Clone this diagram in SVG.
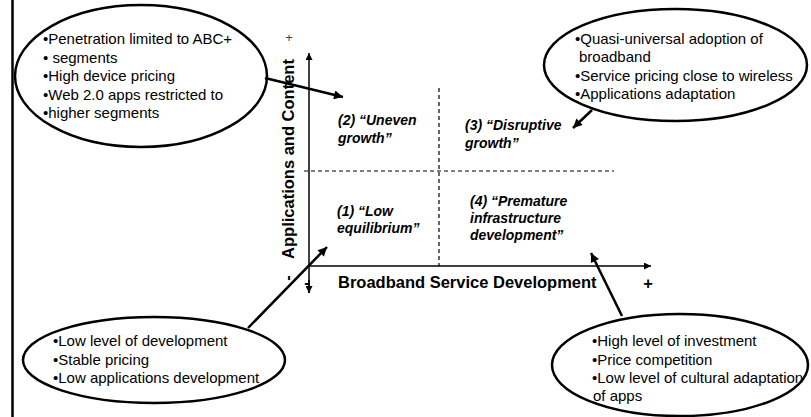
<svg xmlns="http://www.w3.org/2000/svg" width="811" height="417" viewBox="0 0 811 417">
  <style>
    .bubble { fill: #ffffff; stroke: #000000; stroke-width: 2.5; }
    .note { font-family: "Liberation Sans", Arial, sans-serif; font-size: 15px; fill: #000000; }
    .quad { font-family: "Liberation Sans", Arial, sans-serif; font-size: 14px; font-weight: bold; font-style: italic; fill: #000000; }
    .axislabel { font-family: "Liberation Sans", Arial, sans-serif; font-size: 16.5px; font-weight: bold; fill: #000000; }
    .axis { stroke: #000000; stroke-width: 1.5; fill: none; }
    .grid { stroke: #000000; stroke-width: 1.2; stroke-dasharray: 4 3; fill: none; }
    .link { stroke: #000000; stroke-width: 2.5; fill: none; }
  </style>
  <defs>
    <marker id="axisHead" viewBox="0 0 10 10" refX="10" refY="5" markerWidth="8" markerHeight="7" markerUnits="userSpaceOnUse" orient="auto">
      <path d="M0,0 L10,5 L0,10 Z" fill="#000000"/>
    </marker>
    <marker id="linkHead" viewBox="0 0 10 10" refX="10" refY="5" markerWidth="11" markerHeight="9" markerUnits="userSpaceOnUse" orient="auto">
      <path d="M0,0 L10,5 L0,10 Z" fill="#000000"/>
    </marker>
  </defs>

  <rect x="0" y="0" width="811" height="417" fill="#ffffff"/>

  <!-- frame edge on the left -->
  <line x1="12.5" y1="0" x2="12.5" y2="417" stroke="#000000" stroke-width="2.5"/>

  <!-- matrix: axes, quadrant dividers and axis labels -->
  <g id="matrix">
    <line class="grid" x1="439" y1="88" x2="439" y2="266"/>
    <line class="grid" x1="304" y1="171" x2="614" y2="171"/>
    <line class="axis" x1="309" y1="293" x2="309" y2="53" marker-end="url(#axisHead)"/>
    <line class="axis" x1="309" y1="280" x2="309" y2="293" marker-end="url(#axisHead)"/>
    <line class="axis" x1="309" y1="266" x2="651" y2="266" marker-end="url(#axisHead)"/>
    <text class="axislabel" text-anchor="middle" transform="translate(294,159) rotate(-90)">Applications and Content</text>
    <text class="axislabel" text-anchor="middle" transform="translate(293,278) rotate(-90)">-</text>
    <text font-family="'Liberation Sans', Arial, sans-serif" font-size="13" fill="#444444" text-anchor="middle" x="289" y="42">+</text>
    <text class="axislabel" x="338" y="288">Broadband Service Development</text>
    <text class="axislabel" text-anchor="middle" x="307" y="288">-</text>
    <text class="axislabel" text-anchor="middle" x="648" y="289">+</text>
  </g>

  <!-- quadrant captions -->
  <g id="q2">
    <text class="quad" x="338" y="125">(2) “Uneven</text>
    <text class="quad" x="338" y="143">growth”</text>
  </g>
  <g id="q3">
    <text class="quad" x="465" y="130">(3) “Disruptive</text>
    <text class="quad" x="465" y="148">growth”</text>
  </g>
  <g id="q1">
    <text class="quad" x="337" y="216">(1) “Low</text>
    <text class="quad" x="337" y="233">equilibrium”</text>
  </g>
  <g id="q4">
    <text class="quad" x="470" y="206">(4) “Premature</text>
    <text class="quad" x="470" y="223">infrastructure</text>
    <text class="quad" x="470" y="240">development”</text>
  </g>

  <!-- callout bubbles -->
  <g id="note-uneven">
    <ellipse class="bubble" cx="141" cy="76" rx="126" ry="71"/>
    <text class="note" x="43" y="44">•Penetration limited to ABC+</text>
    <text class="note" x="43" y="63">• segments</text>
    <text class="note" x="43" y="81">•High device pricing</text>
    <text class="note" x="43" y="100">•Web 2.0 apps restricted to</text>
    <text class="note" x="43" y="118">•higher segments</text>
  </g>
  <g id="note-disruptive">
    <ellipse class="bubble" cx="675.5" cy="65" rx="131.5" ry="56"/>
    <text class="note" x="575" y="44">•Quasi-universal adoption of</text>
    <text class="note" x="579" y="62">broadband</text>
    <text class="note" x="575" y="81">•Service pricing close to wireless</text>
    <text class="note" x="575" y="99">•Applications adaptation</text>
  </g>
  <g id="note-low">
    <ellipse class="bubble" cx="154" cy="360" rx="131" ry="43"/>
    <text class="note" x="53" y="346">•Low level of development</text>
    <text class="note" x="53" y="365">•Stable pricing</text>
    <text class="note" x="53" y="383">•Low applications development</text>
  </g>
  <g id="note-premature">
    <ellipse class="bubble" cx="680" cy="365" rx="128" ry="51"/>
    <text class="note" x="592" y="346">•High level of investment</text>
    <text class="note" x="592" y="365">•Price competition</text>
    <text class="note" x="592" y="383">•Low level of cultural adaptation</text>
    <text class="note" x="593" y="401">of apps</text>
  </g>

  <!-- connectors from bubbles to quadrants -->
  <g id="connectors">
    <line class="link" x1="265" y1="78" x2="343" y2="97" marker-end="url(#linkHead)"/>
    <line class="link" x1="592" y1="110" x2="573" y2="128" marker-end="url(#linkHead)"/>
    <line class="link" x1="248" y1="328" x2="327" y2="247" marker-end="url(#linkHead)"/>
    <line class="link" x1="622" y1="316" x2="591" y2="253" marker-end="url(#linkHead)"/>
  </g>
</svg>
